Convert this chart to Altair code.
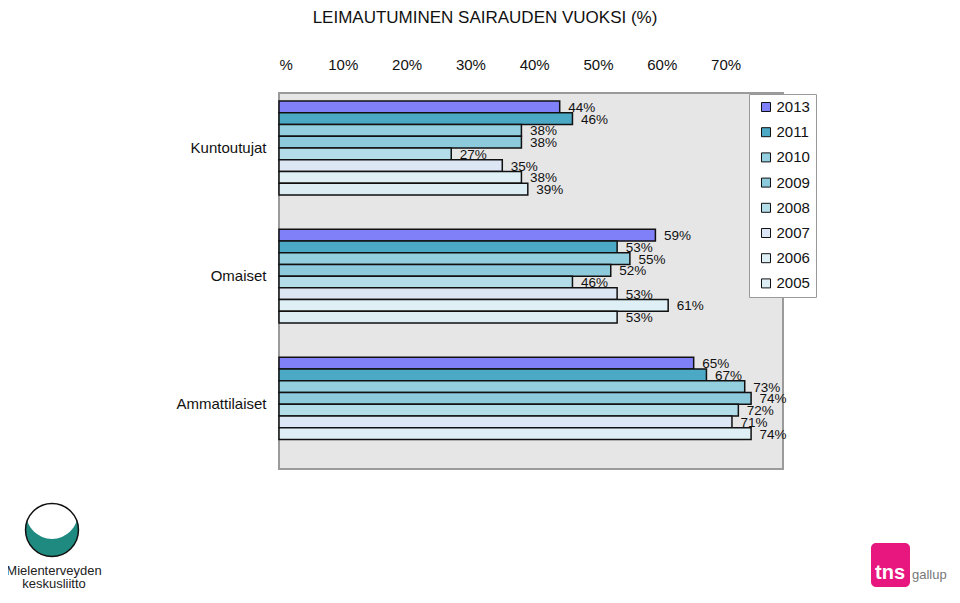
import altair as alt
import pandas as pd

FONT = "Liberation Sans, Arial, sans-serif"

groups = ["Kuntoutujat", "Omaiset", "Ammattilaiset"]
years = ["2013", "2011", "2010", "2009", "2008", "2007", "2006", "2005"]
kuntoutujat = [44, 46, 38, 38, 27, 35, 38, 39]
omaiset = [59, 53, 55, 52, 46, 53, 61, 53]
ammattilaiset = [65, 67, 73, 74, 72, 71, 74, None]
colors = ["#8080F8", "#4BA9C6", "#93CFDF", "#8DCADC", "#B3DDE9", "#DCE6F4", "#DEF0F6", "#DCEDF4"]
x_ticks = [0, 10, 20, 30, 40, 50, 60, 70]
title_text = "LEIMAUTUMINEN SAIRAUDEN VUOKSI (%)"

rows = []
for g, vals in zip(groups, [kuntoutujat, omaiset, ammattilaiset]):
    for yr, v in zip(years, vals):
        if v is not None:
            rows.append({"ryhma": g, "vuosi": yr, "arvo": v, "label": f"{v}%"})
df = pd.DataFrame(rows)

W, H = 504, 376

y_enc = alt.Y(
    "ryhma:N", sort=groups,
    scale=alt.Scale(paddingInner=0.267, paddingOuter=0.1, align=0.31),
    axis=alt.Axis(title=None, ticks=False, domain=False, labelPadding=13,
                  labelFontSize=15, labelColor="#111", labelFont=FONT),
)
yoff = alt.YOffset("vuosi:N", sort=years,
                   scale=alt.Scale(domain=years, paddingInner=0, paddingOuter=0))
x_enc = alt.X(
    "arvo:Q",
    scale=alt.Scale(domain=[0, 79], nice=False, zero=True),
    axis=alt.Axis(orient="top", values=x_ticks,
                  labelExpr="datum.value == 0 ? '%' : datum.value + '%'",
                  ticks=False, tickSize=0, domain=False, grid=False, title=None,
                  labelFontSize=15, labelPadding=21, labelFont=FONT, labelColor="#111"),
)

bars = alt.Chart(df).mark_bar(stroke="#111", strokeWidth=1.5).encode(
    x=x_enc, y=y_enc, yOffset=yoff,
    color=alt.Color(
        "vuosi:N",
        scale=alt.Scale(domain=years, range=colors),
        legend=alt.Legend(title=None, orient="none", legendX=470, legendY=1,
                          fillColor="white", strokeColor="#999", padding=5.5,
                          rowPadding=9.2, symbolType="square", symbolSize=81,
                          symbolStrokeColor="#111", symbolStrokeWidth=1,
                          symbolOffset=4, labelOffset=3, labelFontSize=15,
                          labelFont=FONT, labelColor="#111"),
    ),
)

labels = alt.Chart(df).mark_text(
    align="left", baseline="middle", dx=8.5, dy=1, fontSize=13.5, font=FONT, color="#111"
).encode(x="arvo:Q", y=alt.Y("ryhma:N", sort=groups), yOffset=yoff, text="label:N")

one = pd.DataFrame({"k": [0]})


def txt(s, x, y, **kw):
    return alt.Chart(one).mark_text(text=s, **kw).encode(x=alt.value(x), y=alt.value(y))


def disk(x, y, size, **kw):
    return alt.Chart(one).mark_point(shape="circle", size=size, **kw).encode(
        x=alt.value(x), y=alt.value(y))


title = txt(title_text, 206, -70, fontSize=17, font=FONT, color="#111",
            align="center", baseline="alphabetic")

# decorative logos
logo_teal = disk(-227, 437, 2800, filled=True, color="#1F8A80", opacity=1)
logo_white = disk(-227, 420, 2700, filled=True, color="white", opacity=1)
logo_ring = disk(-227, 437, 2800, filled=False, color="#111", strokeWidth=1.5, opacity=1)
logo_t1 = txt("Mielenterveyden", -225, 482, fontSize=13, font=FONT, color="#222",
              align="center", baseline="alphabetic")
logo_t2 = txt("keskusliitto", -225, 495, fontSize=13, font=FONT, color="#222",
              align="center", baseline="alphabetic")
tns_box = alt.Chart(one).mark_rect(color="#E8177F", cornerRadius=5).encode(
    x=alt.value(592), x2=alt.value(631), y=alt.value(450), y2=alt.value(494))
tns_t = txt("tns", 611, 486, fontSize=20, font=FONT, fontWeight="bold", color="white",
            align="center", baseline="alphabetic")
gallup_t = txt("gallup", 633, 486, fontSize=13, font=FONT, color="#777",
               align="left", baseline="alphabetic")

chart = alt.layer(
    bars, labels, title, logo_teal, logo_white, logo_ring, logo_t1, logo_t2,
    tns_box, tns_t, gallup_t
).properties(
    width=W, height=H,
    autosize=alt.AutoSizeParams(type="none"),
    padding={"left": 271, "top": 85, "right": 169, "bottom": 124},
).configure_view(fill="#E6E6E6", stroke="#9B9B9B", strokeWidth=2)

chart.save("out.html", embed_options={"renderer": "svg", "actions": False})
